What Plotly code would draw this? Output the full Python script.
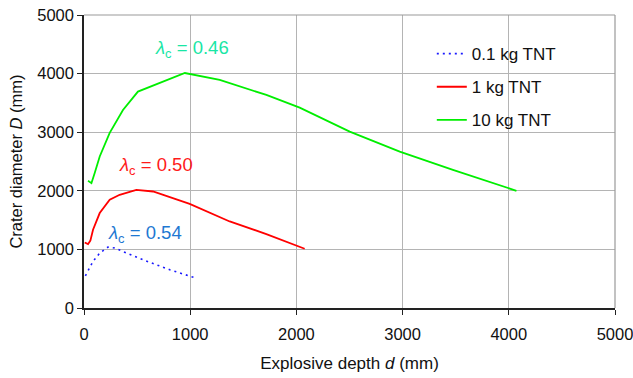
import plotly.graph_objects as go

# Data
depth_01 = [13, 85, 148, 226, 289, 556, 807, 1052]
D_01 = [550, 795, 937, 1040, 1023, 823, 653, 511]

depth_1 = [7, 38, 60, 85, 148, 242, 336, 493, 650, 995, 1372, 1717, 2078]
D_1 = [1119, 1090, 1150, 1335, 1620, 1846, 1932, 2017, 1988, 1778, 1477, 1262, 1011]

depth_10 = [38, 70, 100, 148, 242, 367, 508, 587, 776, 950, 1278, 1717, 2031, 2502, 2973, 3474, 4072]
D_10 = [2170, 2130, 2300, 2585, 2990, 3380, 3693, 3750, 3892, 4010, 3892, 3636, 3420, 3011, 2670, 2358, 2000]

series_names = ["0.1 kg TNT", "1 kg TNT", "10 kg TNT"]
tick_vals = [0, 1000, 2000, 3000, 4000, 5000]

labels = ["0.46", "0.50", "0.54"]
label_x = [1019, 680, 571]
label_y = [4420, 2426, 1267]
label_colors = ["#19E6A5", "#FF1A1A", "#1E78D2"]

FONT = "Arial, Liberation Sans, sans-serif"

fig = go.Figure()
fig.add_trace(go.Scatter(x=depth_01, y=D_01, mode="lines", name=series_names[0],
                         line=dict(color="#1A1AFF", width=1.6, dash="2px,4px"), legendgroup="a"))
fig.add_trace(go.Scatter(x=depth_1, y=D_1, mode="lines", name=series_names[1],
                         line=dict(color="#FF0000", width=1.8), legendgroup="b"))
fig.add_trace(go.Scatter(x=depth_10, y=D_10, mode="lines", name=series_names[2],
                         line=dict(color="#00EE00", width=1.8), legendgroup="c"))

for t, x, y, c in zip(labels, label_x, label_y, label_colors):
    fig.add_annotation(x=x, y=y, xref="x", yref="y", showarrow=False,
                       text="<i>λ</i><sub>c</sub> = " + t,
                       font=dict(family=FONT, size=18.5, color=c))

# white backdrop for legend, then gray top/right frame
fig.add_shape(type="rect", xref="paper", yref="paper", x0=0.572, x1=0.938, y0=0.58, y1=0.925,
              line=dict(width=0), fillcolor="white", layer="between")
fig.add_shape(type="line", xref="paper", yref="paper", x0=0, x1=1, y0=1, y1=1,
              line=dict(color="#999999", width=1.2), layer="above")
fig.add_shape(type="line", xref="paper", yref="paper", x0=1, x1=1, y0=0, y1=1,
              line=dict(color="#999999", width=1.2), layer="above")

axis_common = dict(
    range=[0, 5000], tickvals=tick_vals, showgrid=True, gridcolor="#B4B4B4", gridwidth=1,
    showline=True, linecolor="#222222", linewidth=1.5, ticks="outside", ticklen=5,
    tickcolor="#222222", tickfont=dict(family=FONT, size=16.5, color="#111111"),
    zeroline=False, mirror=False, automargin=False,
)

fig.update_layout(
    width=633, height=378,
    margin=dict(l=84, r=18, t=15, b=70, autoexpand=False),
    paper_bgcolor="white", plot_bgcolor="rgba(0,0,0,0)",
    font=dict(family=FONT, color="#111111"),
    xaxis=dict(**axis_common, ticklabelstandoff=5, ticklabeloverflow="allow",
               title=dict(text="Explosive depth <i>d</i> (mm)", font=dict(family=FONT, size=17), standoff=16)),
    yaxis=dict(**axis_common, ticklabeloverflow="allow",
               title=dict(text="Crater diameter <i>D</i> (mm)", font=dict(family=FONT, size=16.5), standoff=10)),
    legend=dict(x=0.655, y=0.928, xanchor="left", yanchor="top", bgcolor="rgba(0,0,0,0)",
                font=dict(family=FONT, size=17, color="#111111"), tracegroupgap=8,
                traceorder="grouped"),
    showlegend=True,
)

fig.write_html("out.html", config={"displayModeBar": False},
               post_script="document.body.style.margin='0';")
